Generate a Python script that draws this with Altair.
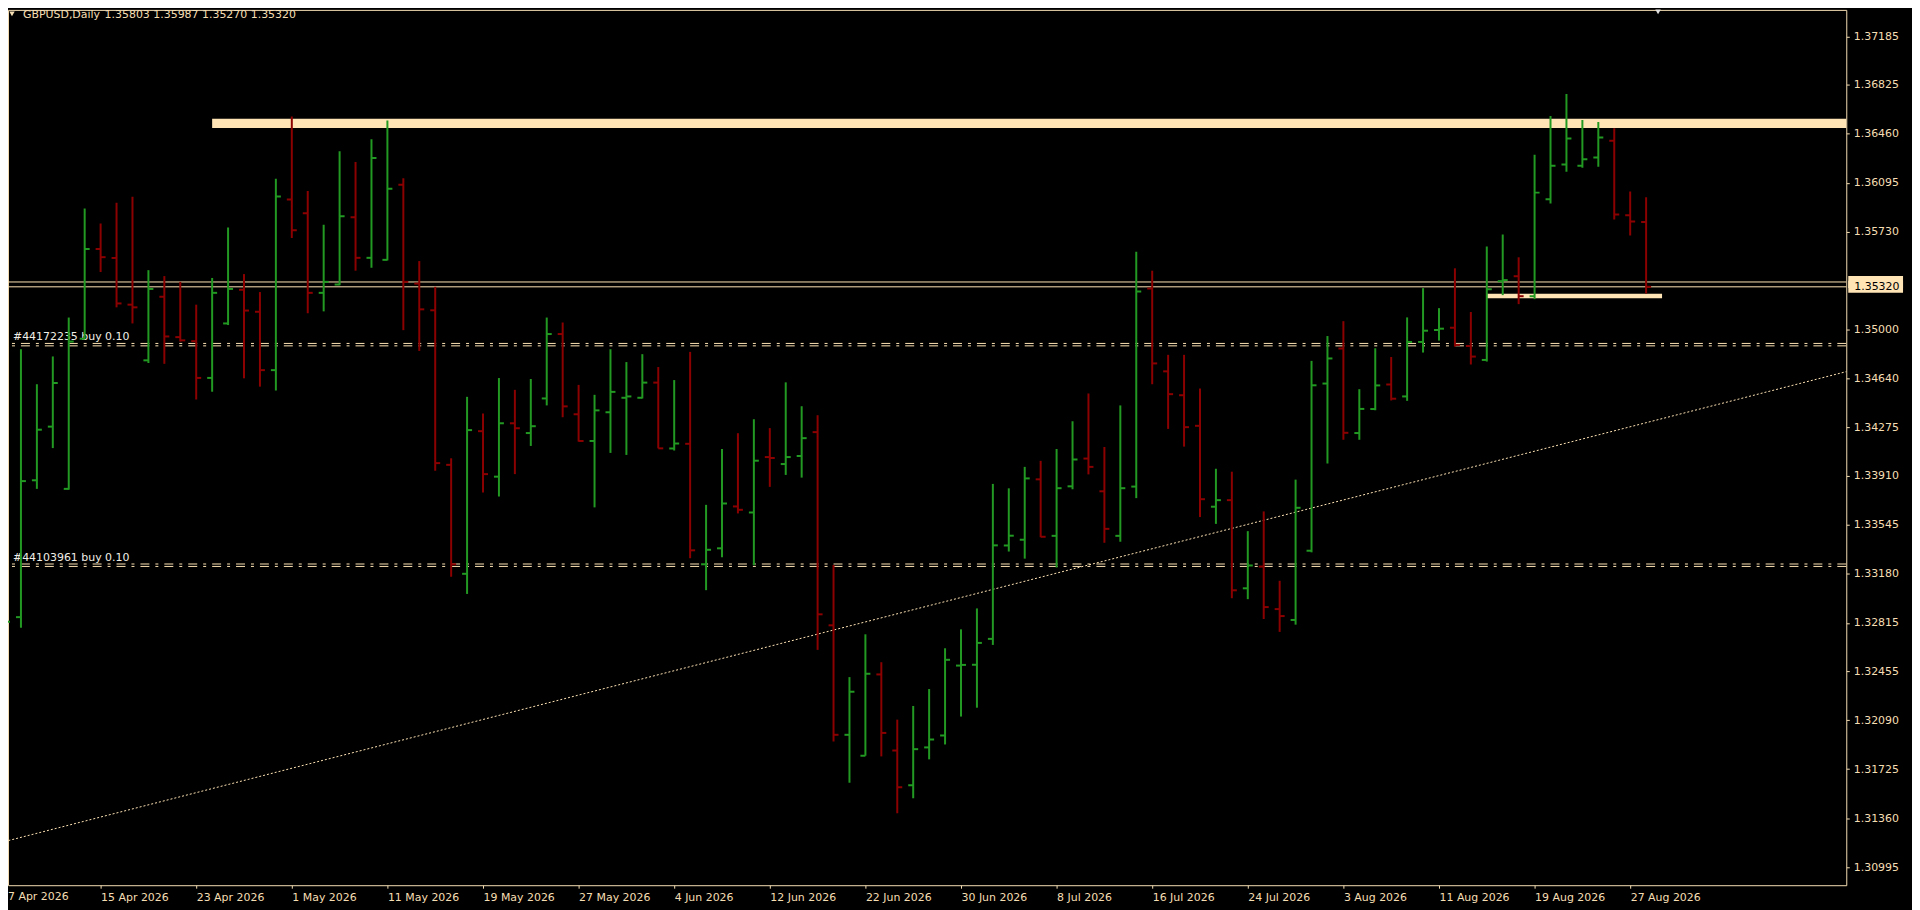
import altair as alt
import pandas as pd

BG = "#000000"
FG = "#F5DEB3"
BAND = "#FFE4B5"
UP = "#229922"
DOWN = "#8B0000"
FONT = "DejaVu Sans"

opens = [1.32210, 1.32858, 1.33878, 1.34278, 1.33814, 1.34933, 1.35602, 1.35535, 1.35187, 1.34772,
         1.35246, 1.34945, 1.34915, 1.34641, 1.35047, 1.35298, 1.35134, 1.34699, 1.35970, 1.35868,
         1.35275, 1.35337, 1.35839, 1.35536, 1.35521, 1.36080, 1.35344, 1.35145, 1.33993, 1.33181,
         1.34244, 1.33905, 1.34303, 1.34230, 1.34488, 1.34968, 1.34370, 1.34171, 1.34385, 1.34493,
         1.34493, 1.34606, 1.34115, 1.34150, 1.33252, 1.33371, 1.33683, 1.33638, 1.34051, 1.33999,
         1.34059, 1.34237, 1.32797, 1.31981, 1.31825, 1.32431, 1.31864, 1.31605, 1.31887, 1.31976,
         1.32497, 1.32503, 1.32696, 1.33392, 1.33435, 1.33885, 1.33464, 1.33833, 1.34040, 1.33796,
         1.33464, 1.33831, 1.35307, 1.34690, 1.34512, 1.34284, 1.33681, 1.33730, 1.33073, 1.33235,
         1.32918, 1.32837, 1.33353, 1.34599, 1.34860, 1.34230, 1.34409, 1.34592, 1.34503, 1.34909,
         1.34998, 1.35015, 1.34879, 1.34775, 1.35362, 1.35399, 1.35250, 1.35973, 1.36232, 1.36223,
         1.36284, 1.36408, 1.35854, 1.35803]
highs = [1.33025, 1.34854, 1.34594, 1.34801, 1.35091, 1.35903, 1.35792, 1.35947, 1.35991, 1.35444,
         1.35400, 1.35357, 1.35187, 1.35386, 1.35763, 1.35415, 1.35281, 1.36125, 1.36590, 1.36034,
         1.35783, 1.36330, 1.36250, 1.36420, 1.36560, 1.36130, 1.35512, 1.35320, 1.34042, 1.34500,
         1.34375, 1.34640, 1.34552, 1.34633, 1.35091, 1.35054, 1.34589, 1.34515, 1.34855, 1.34759,
         1.34818, 1.34722, 1.34625, 1.34835, 1.33695, 1.34111, 1.34229, 1.34333, 1.34267, 1.34608,
         1.34430, 1.34363, 1.33247, 1.32411, 1.32730, 1.32522, 1.32094, 1.32196, 1.32322, 1.32626,
         1.32767, 1.32923, 1.33851, 1.33818, 1.33978, 1.34023, 1.34111, 1.34318, 1.34525, 1.34126,
         1.34436, 1.35581, 1.35440, 1.34813, 1.34813, 1.34562, 1.33964, 1.33942, 1.33499, 1.33646,
         1.33129, 1.33883, 1.34768, 1.34953, 1.35064, 1.34557, 1.34862, 1.34797, 1.35092, 1.35310,
         1.35161, 1.35458, 1.35132, 1.35621, 1.35710, 1.35540, 1.36304, 1.36594, 1.36757, 1.36564,
         1.36549, 1.36502, 1.36030, 1.35987]
lows = [1.32110, 1.32779, 1.33814, 1.34118, 1.33808, 1.34930, 1.35430, 1.35167, 1.35047, 1.34752,
        1.34746, 1.34912, 1.34480, 1.34538, 1.35035, 1.34638, 1.34576, 1.34547, 1.35684, 1.35123,
        1.35137, 1.35332, 1.35440, 1.35462, 1.35517, 1.34997, 1.34842, 1.33949, 1.33159, 1.33031,
        1.33787, 1.33757, 1.33924, 1.34134, 1.34436, 1.34348, 1.34166, 1.33676, 1.34082, 1.34067,
        1.34488, 1.34116, 1.34100, 1.33297, 1.33059, 1.33304, 1.33631, 1.33245, 1.33829, 1.33918,
        1.33898, 1.32614, 1.31931, 1.31624, 1.31825, 1.31820, 1.31397, 1.31508, 1.31798, 1.31909,
        1.32117, 1.32183, 1.32651, 1.33347, 1.33294, 1.33454, 1.33228, 1.33811, 1.33922, 1.33412,
        1.33420, 1.33745, 1.34594, 1.34261, 1.34129, 1.33604, 1.33553, 1.32999, 1.32992, 1.32844,
        1.32748, 1.32802, 1.33341, 1.34003, 1.34180, 1.34180, 1.34400, 1.34473, 1.34470, 1.34830,
        1.34919, 1.34874, 1.34741, 1.34763, 1.35258, 1.35191, 1.35228, 1.35941, 1.36178, 1.36208,
        1.36215, 1.35822, 1.35703, 1.35270]
closes = [1.32823, 1.33872, 1.34255, 1.34603, 1.34912, 1.35602, 1.35541, 1.35196, 1.35167, 1.35304,
          1.34950, 1.34921, 1.34641, 1.35275, 1.35304, 1.35143, 1.34699, 1.35994, 1.35742, 1.35275,
          1.35357, 1.35846, 1.35536, 1.36280, 1.36050, 1.35357, 1.35152, 1.34006, 1.33252, 1.34252,
          1.33924, 1.34303, 1.34266, 1.34281, 1.34968, 1.34429, 1.34171, 1.34399, 1.34537, 1.34503,
          1.34606, 1.34116, 1.34152, 1.33356, 1.33360, 1.33705, 1.33658, 1.34024, 1.34044, 1.34051,
          1.34192, 1.32879, 1.31981, 1.32302, 1.32436, 1.31995, 1.31590, 1.31874, 1.31946, 1.32540,
          1.32502, 1.32666, 1.33393, 1.33465, 1.33892, 1.33457, 1.33819, 1.34033, 1.33978, 1.33516,
          1.33819, 1.35285, 1.34749, 1.34520, 1.34274, 1.33737, 1.33730, 1.33058, 1.33243, 1.32933,
          1.32866, 1.33673, 1.34586, 1.34786, 1.34232, 1.34410, 1.34585, 1.34486, 1.34909, 1.34993,
          1.35008, 1.34887, 1.34800, 1.35302, 1.35370, 1.35250, 1.36022, 1.36223, 1.36425, 1.36270,
          1.36433, 1.35859, 1.35807, 1.35320]

date_ticks = [0, 6, 12, 18, 24, 30, 36, 42, 48, 54, 60, 66, 72, 78, 84, 90, 96, 102]
date_labels = ["7 Apr 2026", "15 Apr 2026", "23 Apr 2026", "1 May 2026", "11 May 2026",
               "19 May 2026", "27 May 2026", "4 Jun 2026", "12 Jun 2026", "22 Jun 2026",
               "30 Jun 2026", "8 Jul 2026", "16 Jul 2026", "24 Jul 2026", "3 Aug 2026",
               "11 Aug 2026", "19 Aug 2026", "27 Aug 2026"]
# 1.35365 sits under the current-price box, so it is not labelled
price_ticks = [1.37185, 1.36825, 1.36460, 1.36095, 1.35730, 1.35000, 1.34640, 1.34275,
               1.33910, 1.33545, 1.33180, 1.32815, 1.32455, 1.32090, 1.31725, 1.31360, 1.30995]

# chart objects
band_x1 = [13, 93]
band_x2 = [130, 104]
band_y1 = [1.36503, 1.35234]
band_y2 = [1.36573, 1.35269]
price_lines = [1.35356, 1.35320]
current_price = 1.35320
buy_lines = [1.34898, 1.34880, 1.33254, 1.33236]
buy_label_price = [1.34898, 1.33254]
buy_label_text = ["#44172235 buy 0.10", "#44103961 buy 0.10"]
trend_idx = [-1, 116]
trend_price = [1.31156, 1.34701]

W, H = 1846, 879

bars = pd.DataFrame({"i": list(range(len(opens))), "o": opens, "h": highs, "l": lows, "c": closes})
bars["dir"] = ["up" if c >= o else "down" for o, c in zip(opens, closes)]

xs = alt.Scale(domain=[0.1875, 115.5625], nice=False, zero=False)
ys = alt.Scale(domain=[1.30860, 1.37384], nice=False, zero=False)
col = alt.Color("dir:N", scale=alt.Scale(domain=["up", "down"], range=[UP, DOWN]), legend=None)

label_expr = "[" + ",".join("'%s'" % s for s in date_labels) + "][round(datum.value/6)]"
x_axis = alt.Axis(values=date_ticks, labelExpr=label_expr, title=None, grid=False, domain=False,
                  ticks=True, tickSize=3, tickColor=FG, labelAlign="left", labelColor=FG,
                  labelFont=FONT, labelFontSize=11, labelPadding=3, labelOverlap=False,
                  labelFlush=False)
y_axis = alt.Axis(orient="right", values=price_ticks, format=".5f", title=None, grid=False,
                  domain=False, ticks=True, tickSize=3, tickColor=FG, labelColor=FG,
                  labelFont=FONT, labelFontSize=11, labelPadding=4, labelOverlap=False,
                  labelFlush=False)

X = lambda f: alt.X(f, scale=xs, axis=x_axis)
Y = lambda f: alt.Y(f, scale=ys, axis=y_axis)

bands_df = pd.DataFrame({"x1": band_x1, "x2": band_x2, "y1": band_y1, "y2": band_y2})
bands = alt.Chart(bands_df).mark_rect(color=BAND, clip=True).encode(
    x=X("x1:Q"), x2="x2:Q", y=Y("y1:Q"), y2="y2:Q")

plines = alt.Chart(pd.DataFrame({"p": price_lines})).mark_rule(color=BAND, strokeWidth=1).encode(
    y=Y("p:Q"))

blines = alt.Chart(pd.DataFrame({"p": buy_lines})).mark_rule(
    color=BAND, strokeWidth=1, strokeDash=[9, 6, 3, 6]).encode(y=Y("p:Q"))

trend = alt.Chart(pd.DataFrame({"i": trend_idx, "p": trend_price})).mark_line(
    color=BAND, strokeWidth=1, strokeDash=[2, 2], clip=True).encode(x=X("i:Q"), y=Y("p:Q"))

blab_df = pd.DataFrame({"p": buy_label_price, "t": buy_label_text})
blab = alt.Chart(blab_df).mark_text(
    align="left", baseline="alphabetic", dy=-3, font=FONT, fontSize=11, color="#F0EEE6").encode(
    x=alt.value(5), y=Y("p:Q"), text="t:N")

base = alt.Chart(bars)
hl = base.mark_rule(strokeWidth=2, clip=True).encode(x=X("i:Q"), y=Y("l:Q"), y2="h:Q", color=col)
op = base.mark_rule(strokeWidth=2, clip=True, xOffset=-5, x2Offset=0).encode(
    x=X("i:Q"), x2="i:Q", y=Y("o:Q"), color=col)
cl = base.mark_rule(strokeWidth=2, clip=True, xOffset=0, x2Offset=5).encode(
    x=X("i:Q"), x2="i:Q", y=Y("c:Q"), color=col)

first_lab = alt.Chart(pd.DataFrame({"i": [date_ticks[0]], "t": [date_labels[0]]})).mark_text(
    align="left", baseline="top", dx=3, font=FONT, fontSize=11, color=FG).encode(
    x=X("i:Q"), y=alt.value(H + 6), text="t:N")

ohlc_text = "%.5f %.5f %.5f %.5f" % (opens[-1], highs[-1], lows[-1], closes[-1])
head_df = pd.DataFrame({"t": ["GBPUSD,Daily", ohlc_text], "x": [15, 97]})
head = alt.Chart(head_df).mark_text(
    align="left", baseline="middle", font=FONT, fontSize=11, color=FG).encode(
    x=alt.X("x:Q", scale=None), y=alt.value(5), text="t:N")
tri = alt.Chart(pd.DataFrame({"k": [0]})).mark_point(
    shape="triangle-down", filled=True, size=30, color=FG, opacity=1).encode(
    x=alt.value(4), y=alt.value(4))
tri2 = alt.Chart(pd.DataFrame({"k": [0]})).mark_point(
    shape="triangle-down", filled=True, size=30, color="#E0E0E0", opacity=1).encode(
    x=alt.value(1657), y=alt.value(2))

box_df = pd.DataFrame({"p": price_lines})
boxes = alt.Chart(box_df).mark_rect(color=BAND, yOffset=-6, y2Offset=6).encode(
    x=alt.value(W + 2), x2=alt.value(W + 57), y=Y("p:Q"), y2="p:Q")
box_txt = alt.Chart(pd.DataFrame({"p": [current_price], "t": ["%.5f" % current_price]})).mark_text(
    align="left", baseline="middle", font=FONT, fontSize=11, color="#000000").encode(
    x=alt.value(W + 8), y=Y("p:Q"), text="t:N")

chart = alt.layer(
    bands, plines, blines, trend, blab,
    hl, op, cl, first_lab, head, tri, tri2, boxes, box_txt
).properties(
    width=W, height=H,
    autosize=alt.AutoSizeParams(type="none"),
    padding={"left": 0, "top": 0, "right": 66, "bottom": 23},
    background=BG,
).configure_view(stroke=FG, strokeWidth=1, fill=BG)

chart.save("out.html", embed_options={"renderer": "svg", "actions": False})
